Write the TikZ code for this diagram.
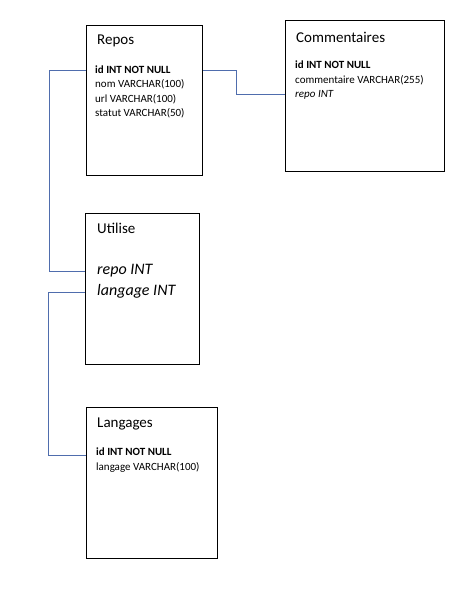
\documentclass[tikz,border=0pt]{standalone}
\usepackage{fontspec}
\setmainfont{Carlito}
\definecolor{linkblue}{HTML}{4F6DAD}
\begin{document}
\begin{tikzpicture}[x=1pt,y=-1pt,
  table/.style={draw=black,line width=0.8pt,anchor=north west,inner sep=0pt},
  title/.style={anchor=base west,inner sep=0pt,font=\fontsize{15}{18}\selectfont},
  field/.style={anchor=base west,inner sep=0pt,font=\fontsize{11}{13}\selectfont},
  keyfield/.style={field,font=\fontsize{11}{13}\selectfont\bfseries},
  fkfield/.style={field,font=\fontsize{11}{13}\selectfont\itshape},
  bigfk/.style={field,font=\fontsize{16}{19}\selectfont\itshape},
  link/.style={draw=linkblue,line width=0.7pt}]
\useasboundingbox (0,0) rectangle (475,595);

% tables
\node[table,minimum width=116pt,minimum height=150pt] (repos) at (86,25) {};
\node[table,minimum width=159pt,minimum height=151pt] (comm) at (285,20) {};
\node[table,minimum width=114pt,minimum height=151pt] (utilise) at (85,213) {};
\node[table,minimum width=131pt,minimum height=151pt] (langages) at (86,407) {};

% Repos
\node[title] at (97,44) {Repos};
\node[keyfield] (reposid) at (95,73) {id INT NOT NULL};
\node[field] (reposnom) at (95,87) {nom VARCHAR(100)};
\node[field] (reposurl) at (95,102) {url VARCHAR(100)};
\node[field] (reposstatut) at (95,116) {statut VARCHAR(50)};

% Commentaires
\node[title] at (296,42) {Commentaires};
\node[keyfield] (commid) at (295,68) {id INT NOT NULL};
\node[field] (commtext) at (295,83) {commentaire VARCHAR(255)};
\node[fkfield] (commrepo) at (295,97) {repo INT};

% Utilise
\node[title] at (97,233) {Utilise};
\node[bigfk] (utilrepo) at (97,274) {repo INT};
\node[bigfk] (utillang) at (97,295) {langage INT};

% Langages
\node[title] at (97,427) {Langages};
\node[keyfield] (langid) at (96,455) {id INT NOT NULL};
\node[field] (langname) at (96,470) {langage VARCHAR(100)};

% links
\draw[link] (repos.west |- reposid.mid) -- ++(-37,0) |- (utilise.west |- utilrepo.mid);
\draw[link] (utilise.west |- utillang.mid) -- ++(-37,0) |- (langages.west |- langid.base);
\draw[link] (repos.east |- reposid.mid) -- ++(34,0) |- (comm.west |- commrepo.mid);
\end{tikzpicture}
\end{document}
